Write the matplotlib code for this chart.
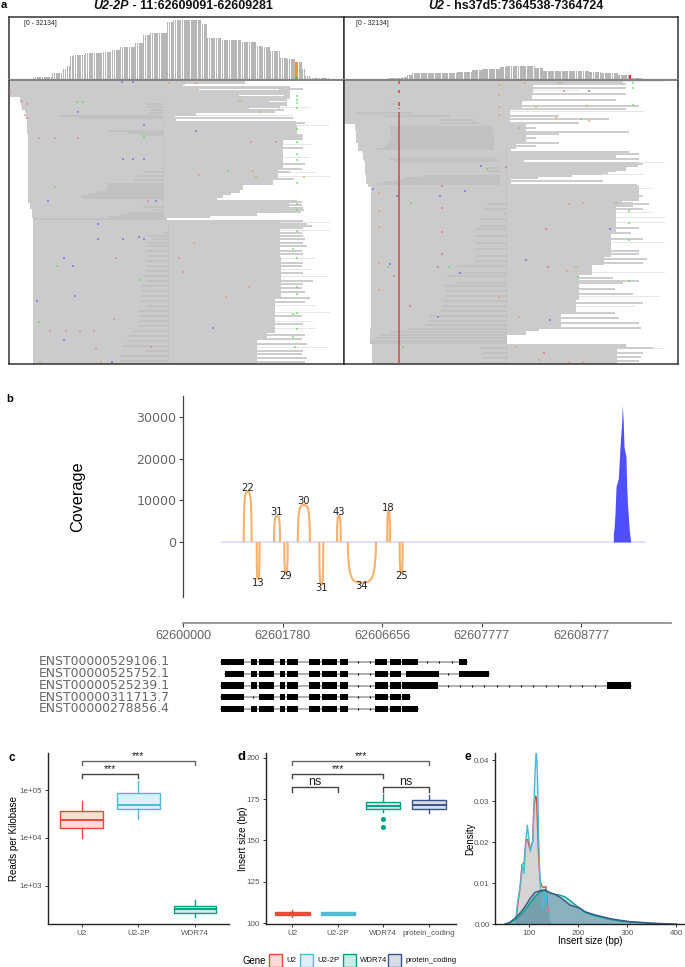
import numpy as np
import matplotlib
matplotlib.use('Agg')
import matplotlib.pyplot as plt
from matplotlib.patches import Rectangle, PathPatch
from matplotlib.path import Path
from matplotlib.colors import to_rgba

plt.rcParams['font.family'] = ['Liberation Sans', 'DejaVu Sans']

W, H = 685, 967
gene_names = ['U2', 'U2-2P', 'WDR74', 'protein_coding']
gene_cols = ['#E64B35', '#4DBBD5', '#00A087', '#3C5488']

# ---- panel a, coverage tracks (column edges of the IGV image, read counts)
covL_edges = [24, 43, 54, 58, 61, 64, 76, 94, 103, 111, 126, 134, 141, 158, 164, 191, 198, 211, 231, 246,
              253, 261, 271, 278, 286, 293, 296, 301, 319]
covL_counts = [1800, 3570, 5700, 7500, 12840, 13200, 14090, 14980, 15690, 17300, 19440, 23540, 24960, 30670,
               31920, 29770, 22290, 21220, 19970, 17830, 17300, 15510, 11590, 10880, 9270, 5700, 2140, 890]
covR_edges = [44, 58, 63, 68, 113, 128, 138, 156, 162, 191, 199, 246, 258, 274, 288, 299]
covR_counts = [890, 1605, 2675, 3570, 4460, 5170, 5710, 6950, 7490, 6240, 4990, 4280, 3570, 2675, 890]

# ---- panel a, left pileup (row, left col, right col)
L_row = [0, 3, 5, 16, 22, 25, 29, 32, 35, 38, 40, 44, 53, 59, 89, 99, 104, 109, 112, 114, 117, 119, 122, 128,
         132, 135, 137, 139, 141, 176, 216, 252, 259]
L_left = [1, 1, 1, 11, 12, 13, 16, 17, 17, 18, 18, 18, 19, 19, 19, 19, 19, 19, 19, 19, 19, 19, 21, 23,
          23, 23, 24, 24, 24, 24, 24, 24, 24]
L_right = [236, 176, 281, 278, 278, 271, 266, 187, 166, 167, 287, 288, 293, 274, 269, 264, 234, 231, 222, 214,
           208, 288, 280, 269, 248, 201, 158, 294, 271, 272, 266, 258, 248]
L_streak_row = [7, 11, 16, 28, 36, 41, 54, 57, 66, 82, 87, 90, 97, 120, 123, 126, 128, 130, 142, 144, 146, 151,
                154, 157, 161, 164, 169, 172, 181, 184, 191, 199, 202, 206, 210, 216, 220, 234, 242, 253, 257,
                262, 269, 272, 276, 280]
L_streak_end = [294, 281, 281, 275, 284, 296, 294, 294, 294, 296, 293, 281, 285, 293, 293, 294, 295, 292, 298,
                303, 294, 293, 294, 296, 294, 298, 293, 294, 294, 293, 294, 304, 294, 293, 296, 301, 296, 293,
                294, 296, 293, 298, 294, 293, 298, 296]
L_light_row = [26, 34, 44, 63, 76, 91, 95, 141, 149, 177, 188, 195, 224, 231, 240, 247, 266]
L_light_end = [301, 284, 321, 303, 301, 308, 321, 321, 321, 306, 304, 319, 306, 321, 304, 306, 319]
L_white_row = [4, 8, 14, 20, 27]
L_white_start = [174, 190, 230, 260, 240]
L_white_end = [260, 270, 275, 280, 270]
L_dark_row = [22, 25, 28, 31, 34, 36, 49, 51, 53, 90, 94, 98, 102, 104, 106, 108, 110, 112, 114, 116, 125, 128,
              131, 133, 135, 137, 151, 154, 157, 161, 164, 169, 174, 179, 184, 189, 194, 199, 204, 209, 214,
              219, 224, 229, 234, 239, 244, 249, 254, 259, 264, 269, 274, 279]
L_dark_left = [138, 138, 142, 140, 51, 70, 100, 118, 130, 136, 130, 125, 98, 98, 98, 97, 90, 80, 72, 74, 134, 144,
               120, 112, 100, 24, 154, 139, 143, 138, 139, 136, 139, 136, 138, 136, 134, 138, 133, 133, 131,
               134, 138, 129, 131, 129, 129, 124, 119, 118, 113, 136, 111, 111]
L_blue = [(113, 0), (124, 0), (69, 30), (135, 43), (187, 49), (114, 77), (124, 77), (135, 77), (89, 142), (89, 157),
          (114, 157), (130, 155), (135, 157), (55, 176), (64, 184), (66, 214), (28, 219), (55, 258), (204, 246),
          (103, 280), (39, 119), (147, 119)]
L_red = [(1, 10), (13, 19), (18, 22), (16, 33), (18, 36), (30, 56), (46, 56), (69, 56), (242, 60), (267, 60),
         (107, 176), (105, 237), (87, 267), (41, 249), (57, 249), (71, 249), (85, 249), (142, 265), (174, 190),
         (170, 176), (139, 119)]
L_green = [(68, 20), (74, 20), (288, 14), (288, 18), (288, 21), (288, 26), (288, 47), (288, 60), (288, 72), (288, 78),
           (288, 101), (46, 105), (135, 55), (219, 89), (288, 122), (288, 128), (288, 149), (284, 167), (288, 176),
           (288, 205), (288, 212), (288, 231), (284, 232), (288, 247), (284, 255), (286, 265), (30, 240), (48, 184),
           (131, 198)]
L_orange = [(231, 19), (251, 30), (190, 93), (244, 89), (247, 95), (295, 95), (160, 1), (187, 1), (185, 161),
            (217, 215), (240, 205), (31, 280), (92, 280)]

# ---- panel a, right pileup
R_row = [0, 3, 12, 20, 29, 43, 49, 62, 68, 70, 72, 79, 81, 83, 86, 90, 91, 94, 96, 98, 103, 106, 120, 126, 152,
         176, 184, 194, 219, 232, 247, 250, 254, 263, 266]
R_left = [0, 0, 0, 0, 0, 11, 12, 14, 14, 18, 19, 20, 21, 21, 21, 21, 21, 22, 22, 22, 24, 27, 27, 27, 27,
          27, 27, 27, 27, 27, 26, 26, 26, 28, 28]
R_right = [280, 190, 189, 179, 166, 183, 183, 173, 168, 273, 273, 181, 296, 295, 283, 273, 259, 229, 193, 168,
           294, 296, 279, 273, 268, 261, 249, 236, 233, 218, 196, 183, 163, 283, 274]
R_streak_row = [2, 6, 12, 18, 24, 27, 34, 37, 41, 46, 50, 52, 56, 61, 64, 70, 72, 77, 82, 86, 91, 96, 99, 104, 111,
                114, 117, 121, 124, 127, 122, 146, 151, 157, 169, 172, 177, 181, 196, 199, 201, 207, 212, 221,
                231, 236, 241, 246, 266, 271, 275, 279]
R_streak_end = [283, 283, 283, 273, 296, 283, 216, 266, 236, 193, 286, 216, 193, 216, 193, 286, 296, 296, 300, 283,
                265, 195, 260, 296, 296, 300, 295, 290, 290, 300, 306, 296, 288, 300, 296, 296, 304, 300, 270, 296,
                280, 272, 290, 300, 272, 276, 296, 298, 310, 300, 298, 296]
R_light_row = [0, 9, 30, 61, 93, 107, 81, 131, 136, 141, 161, 191, 215, 225, 267]
R_light_end = [322, 236, 301, 216, 300, 308, 322, 308, 322, 322, 322, 322, 316, 292, 322]
R_dark_row = [22, 31, 34, 38, 41, 45, 47, 49, 51, 53, 55, 57, 59, 61, 63, 65, 67, 77, 79, 86, 89, 94, 96, 98, 100,
              102, 122, 127, 132, 137, 144, 147, 154, 161, 167, 174, 179, 184, 191, 194, 201, 204, 209, 214, 219,
              224, 229, 234, 239, 243, 247, 250, 253, 256, 259, 261, 266, 271, 276, 281]
R_dark_left = [45, 13, 40, 96, 96, 46, 46, 47, 46, 46, 48, 46, 46, 45, 42, 40, 33, 46, 50, 143, 143, 79, 60, 56, 40,
               33, 143, 140, 160, 136, 136, 131, 131, 131, 131, 131, 131, 113, 113, 103, 113, 101, 101, 101, 98,
               98, 96, 86, 84, 81, 63, 46, 36, 30, 26, 26, 136, 138, 140, 136]
R_dark_right = [52, 69, 106, 130, 135, 149, 149, 149, 149, 149, 150, 150, 150, 150, 150, 150, 150, 153, 153, 156, 156,
                156, 156, 156, 156, 156, 162, 162, 162, 162, 162, 162, 162, 162, 162, 162, 162, 162, 162, 162, 162,
                162, 162, 162, 162, 162, 162, 162, 162, 162, 162, 162, 162, 162, 162, 162, 163, 163, 163, 163]
R_red_start = [0, 9, 21, 27, 31]
R_red_end = [3, 12, 25, 28, 283]
R_blue = [(246, 9), (137, 84), (29, 107), (121, 109), (96, 114), (53, 114), (46, 182), (116, 191), (183, 178),
          (94, 235), (207, 238), (267, 147)]
R_red = [(221, 9), (162, 85), (98, 104), (98, 126), (98, 150), (98, 172), (203, 147), (205, 185), (94, 185), (50, 194),
         (66, 224), (201, 271)]
R_green = [(290, 1), (290, 6), (290, 23), (238, 37), (143, 87), (67, 121), (286, 129), (286, 141), (286, 158),
           (286, 199), (44, 185), (105, 185), (235, 195), (59, 265)]
R_orange = [(155, 3), (155, 13), (155, 25), (155, 33), (182, 1), (217, 1), (193, 25), (244, 24), (213, 36), (246, 39),
            (176, 46), (35, 111), (35, 129), (35, 145), (35, 181), (35, 208), (226, 122), (240, 121), (273, 121),
            (224, 189), (233, 185), (176, 235), (155, 216), (173, 265), (196, 278), (226, 280), (240, 280)]

# ---- panel b
cov_ticks_b = [0, 1, 2, 3, 4]
cov_ticklabels_b = ['62600000', '62601780', '62606656', '62607777', '62608777']
arc_start = [0.610, 0.741, 0.915, 1.018, 1.153, 1.370, 1.548, 1.655, 2.053, 2.178]
arc_end = [0.690, 0.769, 0.975, 1.052, 1.276, 1.410, 1.585, 1.940, 2.080, 2.208]
arc_peak = [12070, -8960, 6240, -7360, 8880, -10160, 6240, -9760, 7280, -7360]
arc_label = ['22', '13', '31', '29', '30', '31', '43', '34', '18', '25']
peak_x = [4.325, 4.332, 4.342, 4.352, 4.375, 4.392, 4.408, 4.415, 4.425, 4.432, 4.452, 4.459, 4.469, 4.485, 4.499]
peak_y = [2000, 3280, 7000, 13280, 15280, 22880, 28480, 32880, 28480, 22880, 20480, 13280, 8480, 2880, 0]

# ---- transcripts, exon start/end
tx_names = ['ENST00000529106.1', 'ENST00000525752.1', 'ENST00000525239.1', 'ENST00000311713.7', 'ENST00000278856.4']
tx_rows = [0.857, 1.696, 2.536, 3.375, 4.214]
tx_exons = [
    [(507, 558), (575, 588), (593, 628), (640, 653), (658, 682), (707, 732), (738, 772), (778, 797), (859, 887), (892, 917), (921, 956), (1051, 1068)],
    [(516, 558), (575, 588), (593, 628), (640, 653), (658, 682), (707, 732), (738, 772), (778, 797), (859, 889), (893, 917), (929, 1004), (1051, 1119)],
    [(507, 558), (575, 588), (593, 628), (640, 653), (658, 682), (707, 732), (738, 772), (778, 797), (859, 889), (893, 917), (921, 1003), (1389, 1444)],
    [(507, 558), (594, 628), (640, 653), (658, 682), (707, 732), (738, 772), (778, 797), (859, 889), (893, 917), (921, 938)],
    [(507, 558), (575, 588), (593, 628), (640, 653), (658, 682), (707, 732), (738, 772), (778, 797), (859, 889), (893, 917), (921, 956)],
]

# ---- panel c, boxes
c_low = [10160, 24650, 224]
c_q1 = [16480, 40600, 271]
c_med = [23500, 49200, 319]
c_q3 = [36800, 86500, 368]
c_high = [59700, 157000, 500]

# ---- panel d, boxes
d_low = [104, 105, 167, 166.8]
d_q1 = [104.8, 105.2, 168.8, 168.8]
d_med = [105.7, 105.9, 170.8, 171.6]
d_q3 = [106.8, 106.6, 173, 174.2]
d_high = [108, 107, 177.9, 177.5]
d_fliers = [[], [], [162.8, 158.4], []]

# ---- panel e, densities
e_u2_x = [72.8, 76.9, 81.7, 85.7, 90, 94, 97.3, 101.4, 104.8, 107.5, 110, 113.6, 115.6, 119, 122.4, 126.5, 130.5, 134.6, 137.3, 140.7, 144.8]
e_u2_y = [0, .0047, .0088, .0145, .015, .0206, .0207, .0185, .0193, .0202, .0287, .0313, .0307, .0181, .0108, .0092, .009, .0092, .0051, .0011, 0]
e_u22p_x = [72.8, 75, 78, 83, 86.4, 90, 93, 96.6, 100, 102.7, 105.4, 108, 111, 113.6, 115, 117, 119.7, 122.4, 125.8, 128.5, 131, 134, 136.7, 140, 144.8]
e_u22p_y = [0, .0035, .0063, .010, .0145, .0124, .0198, .0242, .0206, .0177, .0193, .0206, .0328, .0401, .0419, .0376, .0206, .0108, .0051, .0039, .0059, .0088, .0043, .0015, 0]
e_wide_x = [51, 61, 71.5, 81.7, 91.9, 102, 112.2, 122.4, 132.6, 142.8, 153, 163, 173.3, 183.5, 193.7, 203.9, 214, 224, 234.4, 244.6, 265, 285.3, 305.7, 326, 346.4, 373.6, 400.7]
e_wdr_y = [0, .0003, .0011, .0021, .0035, .0051, .0067, .008, .0082, .0077, .0073, .0071, .0067, .0058, .0048, .0039, .0029, .0025, .0021, .0018, .0012, .0008, .00057, .0004, .00024, .0001, 0]
e_pc_y = [0, .0005, .0015, .0027, .0043, .0063, .0078, .0082, .0084, .0077, .0073, .0066, .0057, .0047, .0043, .0039, .0031, .0027, .0023, .002, .0014, .001, .00065, .0005, .0003, .00016, 0]


def px_axes(x0, y0, x1, y1, **kw):
    # axes from picture pixels, y counted from the top
    return fig.add_axes([x0 / W, 1 - y1 / H, (x1 - x0) / W, (y1 - y0) / H], **kw)


def coverage(ax, edges, counts):
    for i in range(len(counts)):
        xs = np.arange(edges[i], edges[i + 1], 1.76)
        ax.bar(xs, counts[i], width=1.45, align='edge', color='#b6b6b6', lw=0)
    ax.set_xlim(0, 335)
    ax.set_ylim(0, 33300)
    ax.set_xticks([])
    ax.set_yticks([])
    for s in ['top', 'left', 'right']:
        ax.spines[s].set_linewidth(1.1)
        ax.spines[s].set_color('#333333')
    ax.spines['bottom'].set_linewidth(1.6)
    ax.spines['bottom'].set_color('#858585')


def pileup(ax, rows, left, right, s_row, s_end, l_row, l_end, d_row, d_left, d_right):
    tops = np.array(rows + [283])
    left = np.array(left)
    right = np.array(right)
    ax.barh(l_row, np.array(l_end) - 160, left=160, height=1.3, align='edge', color='#e6e6e6', lw=0)
    ax.barh(s_row, np.array(s_end) - 160, left=160, height=2.4, align='edge', color='#cdcdcd', lw=0)
    ax.barh(rows, right - left, left=left, height=np.diff(tops), align='edge', color='#cbcbcb', lw=0)
    ax.barh(d_row, np.array(d_right) - np.array(d_left), left=d_left, height=2, align='edge', color='#c1c1c1', lw=0)
    ax.set_xlim(0, 335)
    ax.set_ylim(283, 0)
    ax.set_xticks([])
    ax.set_yticks([])
    ax.spines['top'].set_visible(False)
    for s in ['left', 'right', 'bottom']:
        ax.spines[s].set_linewidth(1.1)
        ax.spines[s].set_color('#333333')


def mismatches(ax, pts, col):
    ax.scatter([p[0] for p in pts], [p[1] + 0.5 for p in pts], s=1.8, marker='s', color=col, lw=0, alpha=0.6, zorder=4)


def box_panel(ax, low, q1, med, q3, high, fliers=None):
    for i in range(len(low)):
        st = {'whislo': low[i], 'q1': q1[i], 'med': med[i], 'q3': q3[i], 'whishi': high[i],
              'fliers': fliers[i] if fliers else []}
        c = gene_cols[i]
        ax.bxp([st], positions=[i], widths=0.75, patch_artist=True, showcaps=False,
               boxprops=dict(facecolor=to_rgba(c, 0.2), edgecolor=c, lw=1.0),
               medianprops=dict(color=c, lw=1.4), whiskerprops=dict(color=c, lw=1.0),
               flierprops=dict(marker='o', ms=2.6, mfc=c, mec=c))
    ax.set_xticks(range(len(low)))


def clean(ax):
    ax.spines['top'].set_visible(False)
    ax.spines['right'].set_visible(False)
    ax.spines['left'].set_linewidth(1.0)
    ax.spines['bottom'].set_linewidth(1.0)
    ax.spines['left'].set_color('#222222')
    ax.spines['bottom'].set_color('#222222')
    ax.tick_params(length=2, width=0.7, labelsize=5.8, labelcolor='#555555', color='#333333', pad=2)
    ax.patch.set_alpha(0)


def bracket(ax, x0, x1, leg, top, label, lx, ly, size=7.5, col='#444444'):
    ax.plot([x0, x0, x1, x1], [leg, top, top, leg], color=col, lw=1.0, clip_on=False)
    ax.text(lx, ly, label, ha='center', va='center', fontsize=size, color='#222222', clip_on=False)


fig = plt.figure(figsize=(W / 100, H / 100), dpi=100)

# panel a
ax = px_axes(9, 17, 344, 80)
coverage(ax, covL_edges, covL_counts)
ax.bar(286, 9270, width=2.6, align='edge', color='#e09a3c', lw=0)
ax.bar(286, 1500, width=2.6, align='edge', color='#4fbf4f', lw=0)
ax.text(15, 30000, '[0 - 32134]', fontsize=4.9, va='center', color='#222222')

ax = px_axes(344, 17, 678, 80)
coverage(ax, covR_edges, covR_counts)
ax.bar(286, 2675, width=1.8, align='edge', color='#f03030', lw=0)
ax.text(12.5, 30000, '[0 - 32134]', fontsize=4.9, va='center', color='#222222')

ax = px_axes(9, 81, 344, 364)
pileup(ax, L_row, L_left, L_right, L_streak_row, L_streak_end, L_light_row, L_light_end,
       L_dark_row, L_dark_left, [159 if r > 140 else 154 for r in L_dark_row])
ax.barh(L_white_row, np.array(L_white_end) - np.array(L_white_start), left=L_white_start, height=1, color='white', lw=0)
ax.plot([154, 154], [40, 139], color='#c2c2c2', lw=0.6)
ax.plot([159, 159], [139, 283], color='#c2c2c2', lw=0.6)
for pts, col in zip([L_blue, L_red, L_green, L_orange], ['#6060f0', '#e08080', '#50e050', '#e09a50']):
    mismatches(ax, pts, col)

ax = px_axes(344, 81, 678, 364)
pileup(ax, R_row, R_left, R_right, R_streak_row, R_streak_end, R_light_row, R_light_end,
       R_dark_row, R_dark_left, R_dark_right)
ax.plot([162, 162], [64, 283], color='#c2c2c2', lw=0.6)
ax.vlines([55.3] * len(R_red_start), R_red_start, R_red_end, color='#d04848', lw=1.1, zorder=3)
for pts, col in zip([R_blue, R_red, R_green, R_orange], ['#6060f0', '#e06060', '#50e050', '#e09a50']):
    mismatches(ax, pts, col)

# panel b
ax = px_axes(183, 396, 671, 597)
ax.set_xlim(0, 488 / 99.5)
ax.set_ylim(-13200, 35040)
ax.plot([0.39, 4.64], [0, 0], color='#dedeff', lw=1.4, zorder=1)
ax.fill_between(peak_x, 0, peak_y, color='#4f4fff', lw=0)
for x0, x1, h, lab in zip(arc_start, arc_end, arc_peak, arc_label):
    w = x1 - x0
    verts = [(x0, 0), (x0 + 0.03 * w, 0.9 * h), (x0 + 0.12 * w, h), ((x0 + x1) / 2, h),
             (x1 - 0.12 * w, h), (x1 - 0.03 * w, 0.9 * h), (x1, 0)]
    codes = [Path.MOVETO] + [Path.CURVE4] * 6
    ax.add_patch(PathPatch(Path(verts, codes), fc='none', ec='#f8b06a', lw=1.5, zorder=2))
    ax.annotate(lab, ((x0 + x1) / 2, h), xytext=(0, 2.6 if h > 0 else -2.6), textcoords='offset points',
                ha='center', va='center', fontsize=7.2, family='DejaVu Sans', color='#222222', zorder=3)
ax.set_xticks(cov_ticks_b)
ax.set_xticklabels(cov_ticklabels_b, family='DejaVu Sans')
ax.set_yticks([0, 10000, 20000, 30000])
ax.set_yticklabels(['0', '10000', '20000', '30000'], family='DejaVu Sans')
ax.spines['top'].set_visible(False)
ax.spines['right'].set_visible(False)
ax.spines['bottom'].set_position(('outward', 18.7))
ax.spines['bottom'].set_color('#999999')
ax.spines['bottom'].set_linewidth(1.4)
ax.spines['left'].set_color('#444444')
ax.spines['left'].set_linewidth(0.9)
ax.tick_params(labelsize=9.1, labelcolor='#666666', length=3, width=0.8, color='#444444', pad=2)
ax.patch.set_alpha(0)
ax.set_ylabel('Coverage', fontsize=11.7, color='black', labelpad=37)

# transcripts
ax = px_axes(0, 650, 685, 720)
ax.set_xlim(0, 1568)
ax.set_ylim(5.0, 0)
ax.axis('off')
for y, name, ex in zip(tx_rows, tx_names, tx_exons):
    ax.text(88, y, name, fontsize=8.9, family='DejaVu Sans', color='#666666', va='center', ha='left')
    ax.plot([ex[0][0], ex[-1][1]], [y, y], color='#b0b0b0', lw=1.4, zorder=1)
    for a, b in zip(ex[:-1], ex[1:]):
        dots = np.arange(a[1] + 22, b[0] - 8, 28)
        ax.plot(dots, [y] * len(dots), ls='none', marker='|', ms=2, mew=0.8, color='black', zorder=2)
    ax.barh([y] * len(ex), [e[1] - e[0] for e in ex], left=[e[0] for e in ex], height=0.44, color='black', lw=0, zorder=3)

# panel c
ax = px_axes(47.7, 753, 229, 924)
ax.set_yscale('log')
box_panel(ax, c_low, c_q1, c_med, c_q3, c_high)
ax.set_xlim(-0.6, 2.6)
ax.set_ylim(157, 605000)
ax.set_yticks([1e3, 1e4, 1e5])
ax.set_yticklabels(['1e+03', '1e+04', '1e+05'])
ax.minorticks_off()
ax.set_xticklabels(gene_names[:3])
clean(ax)
ax.set_ylabel('Reads per Kilobase', fontsize=7, labelpad=0.5)
bracket(ax, 0, 2, 339000, 412000, '***', 1, 530000, col='#666666')
bracket(ax, 0, 1, 179000, 216700, '***', 0.5, 279000)

# panel d
ax = px_axes(265.7, 753, 456, 924.3)
box_panel(ax, d_low, d_q1, d_med, d_q3, d_high, d_fliers)
ax.set_xlim(-0.59, 3.6)
ax.set_ylim(99.4, 202.8)
ax.set_yticks([100, 125, 150, 175, 200])
ax.set_xticklabels(gene_names)
clean(ax)
ax.set_ylabel('Insert size (bp)', fontsize=7, labelpad=-1)
bracket(ax, 0, 3, 195.6, 198, '***', 1.5, 201, col='#666666')
bracket(ax, 0, 2, 187.5, 190.1, '***', 1, 193.2)
bracket(ax, 0, 1, 179.5, 182.1, 'ns', 0.5, 185, size=9)
bracket(ax, 2, 3, 179.5, 182.1, 'ns', 2.5, 185, size=9)

# panel e
ax = px_axes(495.3, 753, 685, 924.3)
for xs, ys, c, a in zip([e_u2_x, e_u22p_x, e_wide_x, e_wide_x], [e_u2_y, e_u22p_y, e_wdr_y, e_pc_y], gene_cols,
                        [0.2, 0.2, 0.32, 0.32]):
    ax.fill_between(xs, 0, ys, color=c, alpha=a, lw=0)
    ax.plot(xs, ys, color=c, lw=1.0)
ax.set_xlim(31.4, 417.7)
ax.set_ylim(0, 0.0418)
ax.set_xticks([100, 200, 300, 400])
ax.set_yticks([0, 0.01, 0.02, 0.03, 0.04])
ax.set_yticklabels(['0.00', '0.01', '0.02', '0.03', '0.04'])
clean(ax)
ax.set_xlabel('Insert size (bp)', fontsize=7, labelpad=-0.5)
ax.set_ylabel('Density', fontsize=7, labelpad=-0.5)

# overlay for titles, panel letters and the legend
top = fig.add_axes([0, 0, 1, 1], zorder=10)
top.set_xlim(0, W)
top.set_ylim(H, 0)
top.axis('off')
top.text(93, 6, 'U2-2P', fontsize=9, fontweight='bold', style='italic', va='center', color='#111111')
top.text(129, 6, ' - 11:62609091-62609281', fontsize=9, fontweight='bold', va='center', color='#111111')
top.text(428, 6, 'U2', fontsize=9, fontweight='bold', style='italic', va='center', color='#111111')
top.text(443, 6, ' - hs37d5:7364538-7364724', fontsize=9, fontweight='bold', va='center', color='#111111')
for lab, x, y, s in zip('abcde', [1, 6, 9, 237.5, 465], [5, 399, 758, 757, 757], [8, 8, 8.5, 9.5, 8.5]):
    top.text(x, y, lab, fontsize=s, fontweight='bold', va='center', color='black')
top.text(242.7, 960.5, 'Gene', fontsize=6.9, va='center', color='black')
for name, c, kx, tx in zip(gene_names, gene_cols, [269, 300.3, 343, 388.3], [286.7, 317.7, 360, 406]):
    top.add_patch(Rectangle((kx, 954), 12.6, 12.6, fc=to_rgba(c, 0.2), ec=c, lw=1.0))
    top.text(tx, 960.5, name, fontsize=5.6, va='center', color='#111111')

fig.savefig('out.png', dpi=100)
